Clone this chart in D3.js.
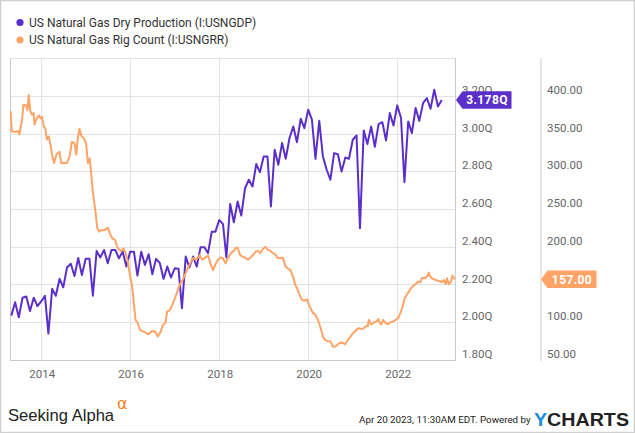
<!DOCTYPE html>
<html><head><meta charset="utf-8">
<script src="https://cdn.jsdelivr.net/npm/d3@7"></script>
<style>html,body{margin:0;padding:0;background:#fff}svg{display:block}</style>
</head><body><svg id="c" width="635" height="433"></svg>
<script>
// ---------- DATA ----------
const seriesNames = ["US Natural Gas Dry Production (I:USNGDP)", "US Natural Gas Rig Count (I:USNGRR)"];
const productionStart = "2013-05-01"; // monthly from May 2013
const productionValues = [2.035,2.106,2.026,2.13,2.136,2.06,2.13,2.085,2.11,2.14,1.94,2.177,2.14,2.23,2.185,2.29,2.31,2.245,2.34,2.25,2.336,2.336,2.141,2.378,2.343,2.383,2.313,2.383,2.383,2.339,2.374,2.295,2.374,2.374,2.247,2.374,2.304,2.36,2.254,2.336,2.313,2.23,2.295,2.237,2.286,2.283,2.074,2.348,2.29,2.348,2.295,2.398,2.398,2.366,2.48,2.48,2.542,2.52,2.343,2.627,2.53,2.64,2.565,2.71,2.755,2.719,2.838,2.795,2.878,2.878,2.613,2.914,2.834,2.95,2.866,2.976,3.037,2.954,3.078,3.029,3.126,3.073,2.866,3.067,2.878,2.808,2.755,2.896,2.89,2.799,2.873,2.866,2.967,2.99,2.498,3.016,2.944,3.037,2.93,3.05,3.06,2.963,3.108,3.042,3.149,3.082,2.742,3.064,3.002,3.135,3.067,3.161,3.188,3.131,3.232,3.143,3.178];
const rigYears = [2013.31,2013.34,2013.40,2013.48,2013.51,2013.57,2013.60,2013.66,2013.69,2013.72,2013.75,2013.79,2013.83,2013.85,2013.90,2013.95,2013.99,2014.02,2014.06,2014.09,2014.13,2014.17,2014.21,2014.25,2014.29,2014.34,2014.41,2014.45,2014.53,2014.58,2014.64,2014.69,2014.75,2014.79,2014.82,2014.86,2014.91,2014.96,2015.01,2015.05,2015.09,2015.12,2015.16,2015.22,2015.26,2015.30,2015.35,2015.42,2015.50,2015.54,2015.60,2015.66,2015.72,2015.80,2015.85,2015.90,2015.95,2016.00,2016.04,2016.08,2016.12,2016.17,2016.22,2016.32,2016.41,2016.49,2016.57,2016.62,2016.69,2016.73,2016.79,2016.83,2016.89,2016.96,2017.03,2017.11,2017.18,2017.26,2017.33,2017.41,2017.48,2017.56,2017.61,2017.67,2017.75,2017.80,2017.86,2017.91,2017.97,2018.03,2018.08,2018.14,2018.20,2018.26,2018.33,2018.38,2018.42,2018.47,2018.53,2018.59,2018.65,2018.70,2018.76,2018.82,2018.87,2018.92,2018.98,2019.04,2019.09,2019.15,2019.21,2019.27,2019.32,2019.37,2019.43,2019.49,2019.54,2019.60,2019.66,2019.71,2019.75,2019.81,2019.86,2019.92,2019.97,2020.02,2020.06,2020.11,2020.16,2020.22,2020.28,2020.33,2020.38,2020.44,2020.50,2020.56,2020.61,2020.67,2020.73,2020.78,2020.83,2020.89,2020.95,2021.00,2021.06,2021.12,2021.18,2021.23,2021.28,2021.34,2021.36,2021.42,2021.48,2021.53,2021.57,2021.60,2021.64,2021.68,2021.74,2021.79,2021.84,2021.90,2021.96,2022.02,2022.07,2022.11,2022.17,2022.22,2022.26,2022.31,2022.37,2022.41,2022.47,2022.52,2022.56,2022.62,2022.67,2022.71,2022.74,2022.80,2022.86,2022.92,2022.97,2023.01,2023.05,2023.09,2023.12,2023.16,2023.21,2023.24,2023.27,2023.30];
const rigCount = [380,353,352,353,349,368,388,387,381,401,381,375,377,362,370,374,370,372,359,357,342,346,335,320,311,322,326,311,311,311,320,339,337,322,342,356,346,344,337,311,317,300,273,247,225,220,222,222,225,218,211,209,198,194,198,191.5,180,160.5,149.5,127,103,99,90,87,84,88.5,87,81,88,96,99,114,116,125,136,149.5,156,167,176,185,183,189,183,185,188.5,178,169,176,183,185.6,185,178,185,191.5,194.5,199,198,189,187,185,183,185.6,189,193.6,194.5,191.5,197,200,196,194.5,191.5,189,185,185,185.6,174,171.6,169,160.5,149.5,145,136,129.6,128.5,130.5,123,117.6,112,110,103,92,81,76.5,75,74.7,67.6,68,70.8,73.3,72.6,70.8,76.5,81,85.4,88.5,92,91.4,91.4,94,95.4,103,97,100,100.6,104.4,100,97,103,98.7,97.3,100,100.8,103,105.3,112,118.5,132,137,140.6,145,148.6,150.4,154,153,159,158.4,160.5,165.8,160.5,157.4,156,155,154,153,156,150.4,158.4,150.4,154,161.8,159,157];
const xTickYears = [2014, 2016, 2018, 2020, 2022];
const leftTicks = [1.8, 2.0, 2.2, 2.4, 2.6, 2.8, 3.0, 3.2];
const rightTicks = [50, 100, 150, 200, 250, 300, 350, 400];
const lastProductionLabel = "3.178Q";
const lastRigLabel = "157.00";
const footerDate = "Apr 20 2023, 11:30AM EDT.";

// ---------- STYLE ----------
const purple = "#5b2fc9", orange = "#ffa466";
const W = 635, H = 433;
const plot = {l: 10, r: 455, t: 58, b: 360};
const svg = d3.select("#c");

function decYear(y) {
  const yr = Math.floor(y);
  const s = new Date(yr, 0, 1), e = new Date(yr + 1, 0, 1);
  return new Date(s.getTime() + (y - yr) * (e - s));
}
const prodData = productionValues.map((v, i) => ({d: d3.timeMonth.offset(new Date(productionStart + "T00:00:00"), i), v}));
const rigData = rigCount.map((v, i) => ({d: decYear(rigYears[i]), v}));

const x = d3.scaleTime().domain([new Date(2013, 3, 20), new Date(2023, 3, 20)]).range([plot.l, plot.r]);
const yL = d3.scaleLinear().domain([1.8, 3.4]).range([plot.b, plot.t]);
const yR = d3.scaleLinear().domain([50, 450]).range([plot.b, plot.t]);

svg.append("rect").attr("x", 0.5).attr("y", 0.5).attr("width", W - 1).attr("height", H - 1)
  .attr("fill", "#fff").attr("stroke", "#cfcfcf").attr("stroke-width", 1.5);

// legend
const leg = svg.append("g");
[purple, orange].forEach((c, i) => {
  const yy = 22.5 + i * 17.5;
  leg.append("circle").attr("cx", 20).attr("cy", yy).attr("r", 3.6).attr("fill", c);
  leg.append("text").attr("x", 29).attr("y", yy + 4.2).attr("font-family", "Roboto, sans-serif")
    .attr("font-size", 12).attr("fill", "#333").text(seriesNames[i]);
});

// gridlines
const grid = svg.append("g");
const gridTicks = leftTicks.concat([3.4]);
gridTicks.forEach(t => {
  grid.append("line").attr("x1", plot.l).attr("x2", plot.r).attr("y1", Math.round(yL(t)) + 0.5).attr("y2", Math.round(yL(t)) + 0.5)
    .attr("stroke", "#e3e3e3").attr("stroke-width", 1);
});
xTickYears.forEach(yr => {
  const xx = Math.round(x(new Date(yr, 0, 1))) + 0.5;
  grid.append("line").attr("x1", xx).attr("x2", xx).attr("y1", plot.t).attr("y2", plot.b)
    .attr("stroke", "#e3e3e3").attr("stroke-width", 1);
});

// frame lines
const frame = svg.append("g").attr("stroke", "#cccccc").attr("stroke-width", 1);
frame.append("line").attr("x1", plot.l + 0.5).attr("x2", plot.l + 0.5).attr("y1", plot.t).attr("y2", plot.b);
frame.append("line").attr("x1", plot.l).attr("x2", plot.r).attr("y1", plot.b + 0.5).attr("y2", plot.b + 0.5);
frame.append("line").attr("x1", plot.r + 0.5).attr("x2", plot.r + 0.5).attr("y1", plot.t).attr("y2", plot.b + 1);
frame.append("line").attr("x1", 541).attr("x2", 541).attr("y1", plot.t).attr("y2", plot.b + 1);

// lines
svg.append("clipPath").attr("id", "clip").append("rect")
  .attr("x", plot.l).attr("y", plot.t).attr("width", plot.r - plot.l).attr("height", plot.b - plot.t);
const lineL = d3.line().x(d => x(d.d)).y(d => yL(d.v));
const lineR = d3.line().x(d => x(d.d)).y(d => yR(d.v));
const lines = svg.append("g").attr("clip-path", "url(#clip)");
lines.append("path").datum(prodData).attr("d", lineL).attr("fill", "none").attr("stroke", purple)
  .attr("stroke-width", 2).attr("stroke-linejoin", "round");
lines.append("path").datum(rigData).attr("d", lineR).attr("fill", "none").attr("stroke", orange)
  .attr("stroke-width", 2).attr("stroke-linejoin", "round");

// axes labels (labels hidden under the last-value badges are not drawn, as in the reference)
const axFont = "Roboto, sans-serif";
const rigBadgeY = yR(rigCount[rigCount.length - 1]);
leftTicks.forEach(t => {
  svg.append("text").attr("x", 462).attr("y", yL(t) - 2).attr("font-family", axFont).attr("font-size", 11.5)
    .attr("fill", "#666").text(d3.format(".2f")(t) + "Q");
});
rightTicks.filter(t => Math.abs(yR(t) - 6 - rigBadgeY) > 9).forEach(t => {
  svg.append("text").attr("x", 547).attr("y", yR(t) - 2).attr("font-family", axFont).attr("font-size", 11.5)
    .attr("fill", "#666").text(d3.format(".2f")(t));
});
xTickYears.forEach(yr => {
  svg.append("text").attr("x", x(new Date(yr, 0, 1)) + 1).attr("y", 378).attr("text-anchor", "middle")
    .attr("font-family", axFont).attr("font-size", 11.5).attr("fill", "#666").text(yr);
});

// badges
function badge(tipX, yc, w, color, label) {
  const h = 17.5, a = 6.5;
  svg.append("path").attr("d", `M${tipX},${yc} L${tipX + a},${yc - h / 2} L${tipX + a + w},${yc - h / 2} L${tipX + a + w},${yc + h / 2} L${tipX + a},${yc + h / 2} Z`)
    .attr("fill", color);
  svg.append("text").attr("x", tipX + a + w / 2).attr("y", yc + 4.3).attr("text-anchor", "middle")
    .attr("font-family", axFont).attr("font-weight", "bold").attr("font-size", 12).attr("letter-spacing", 0.4)
    .attr("fill", "#fff").text(label);
}
badge(plot.r + 1, yL(productionValues[productionValues.length - 1]), 49, purple, lastProductionLabel);
badge(541, rigBadgeY, 49, orange, lastRigLabel);

// footer
svg.append("text").attr("x", 8).attr("y", 421).attr("font-family", "'Liberation Sans', Arial, sans-serif")
  .attr("font-size", 16.6).attr("fill", "#222").text("Seeking Alpha");
svg.append("text").attr("x", 117).attr("y", 409).attr("font-family", "'DejaVu Sans', sans-serif")
  .attr("font-size", 16).attr("fill", "#f5821f").text("α");
svg.append("text").attr("x", 359).attr("y", 423).attr("font-family", axFont).attr("font-size", 9.8)
  .attr("fill", "#222").text(footerDate + "  Powered by");
const yc = svg.append("text").attr("x", 534).attr("y", 425.5).attr("font-family", "'Liberation Sans', Arial, sans-serif")
  .attr("font-size", 18.5).attr("font-weight", "bold").attr("textLength", 95).attr("lengthAdjust", "spacingAndGlyphs");
yc.append("tspan").attr("fill", "#1d8fe1").text("Y");
yc.append("tspan").attr("fill", "#222").text("CHARTS");
</script></body></html>
